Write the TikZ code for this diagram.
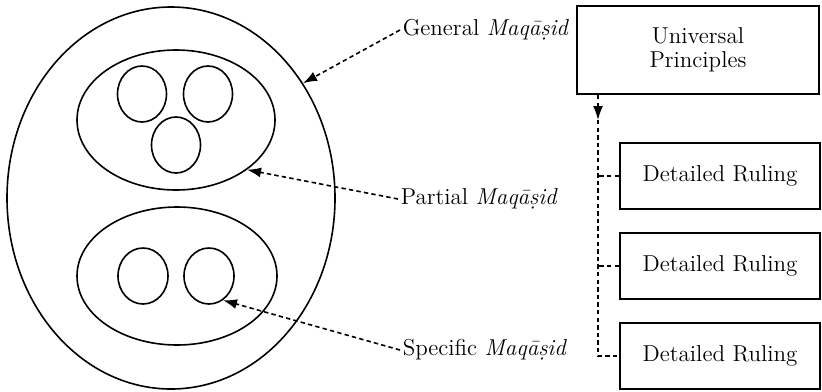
\documentclass[tikz,border=0pt]{standalone}
\usepackage{amsmath,amssymb}
\usepackage{tikz}
\usetikzlibrary{shapes.geometric,arrows.meta}

\begin{document}
\begin{tikzpicture}[x=0.5pt, y=-0.5pt, line width=0.8pt,
        every node/.style={font=\fontsize{11.5}{14}\selectfont},
        oval/.style={ellipse, draw, inner sep=0pt},
        rulebox/.style={rectangle, draw, line width=1pt, minimum width=100pt, minimum height=33pt},
        lbl/.style={anchor=west, inner sep=1pt},
        pointer/.style={dashed, dash pattern=on 2.2pt off 1.6pt, -{Latex[length=7pt,width=5pt]}}]
        \useasboundingbox (0,0) rectangle (822,391);
        % nested maqasid
        \node[oval, minimum width=164pt, minimum height=191pt] (gen) at (171,198) {};
        \node[oval, minimum width=99pt, minimum height=70pt] (part) at (176,120) {};
        \node[oval, minimum width=100pt, minimum height=69pt] (part2) at (177,276) {};
        \node[oval, minimum width=24.5pt, minimum height=28pt] (a1) at (142,94) {};
        \node[oval, minimum width=24.5pt, minimum height=28pt] (a2) at (208,94) {};
        \node[oval, minimum width=24.5pt, minimum height=28pt] (a3) at (176,145) {};
        \node[oval, minimum width=25pt, minimum height=28pt] (b1) at (143,276) {};
        \node[oval, minimum width=25pt, minimum height=28pt] (b2) at (209,276) {};
        % labels
        \node[lbl] (tgen) at (400,30) {General \textit{Maq\={a}\d{s}id}};
        \node[lbl] (tpart) at (398,199) {Partial \textit{Maq\={a}\d{s}id}};
        \node[lbl] (tspec) at (400,350) {Specific \textit{Maq\={a}\d{s}id}};
        \draw[pointer] (tgen.west) -- (gen.41);
        \draw[pointer] (tpart.west) -- (part.-35);
        \draw[pointer] (tspec.west) -- (b2.-60);
        % principles and rulings
        \node[rectangle, draw, line width=1pt, minimum width=121pt, minimum height=44pt, align=center] (univ) at (698,50) {Universal\\[-2pt]Principles};
        \node[rulebox] (r1) at (720,176) {Detailed Ruling};
        \node[rulebox] (r2) at (720,266) {Detailed Ruling};
        \node[rulebox] (r3) at (720,356) {Detailed Ruling};
        \coordinate (top) at (598,95);
        \coordinate (tip) at (598,120);
        \draw[pointer] (top) -- (tip);
        \draw[dashed, dash pattern=on 2.2pt off 1.6pt] (tip) |- (r3.west);
        \draw[dashed, dash pattern=on 2.2pt off 1.6pt] (r1.west) -- (r1.west -| tip);
        \draw[dashed, dash pattern=on 2.2pt off 1.6pt] (r2.west) -- (r2.west -| tip);
    \end{tikzpicture}
\end{document}
